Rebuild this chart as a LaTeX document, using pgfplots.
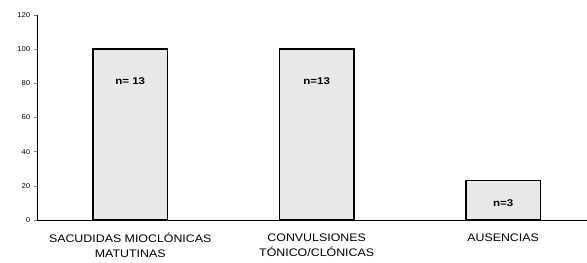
\documentclass[border=0pt]{standalone}
\usepackage{pgfplots}
\pgfplotsset{compat=1.18}
\usepackage{fontspec}
\setmainfont{Liberation Sans}
\begin{document}
\begin{tikzpicture}[x=1bp,y=1bp]
\path[use as bounding box] (0,0) rectangle (587bp,263bp);
\begin{axis}[
  scale only axis,
  width=550bp, height=205bp,
  at={(37bp,43bp)}, anchor=south west,
  xmin=-0.5, xmax=2.45,
  ymin=0, ymax=120,
  ytick={0,20,...,120},
  axis x line=bottom, axis y line=left,
  axis line style={-, line width=0.6pt},
  xtick={0,1,2},
  xticklabels={{SACUDIDAS MIOCLÓNICAS\\MATUTINAS},{CONVULSIONES\\TÓNICO/CLÓNICAS},{AUSENCIAS}},
  xticklabel style={align=center, font=\fontsize{11}{15}\selectfont, xscale=1.13, yshift=-7pt},
  x tick style={draw=none},
  extra x ticks={0.5,1.5},
  extra x tick labels={},
  extra x tick style={tick style={draw=black, line width=0.5pt}, major tick length=3bp},
  tick align=outside,
  major tick length=3bp,
  y tick style={line width=0.5pt},
  yticklabel style={font=\fontsize{7}{8}\selectfont, xscale=1.1},
  /pgf/number format/assume math mode=true,
  ybar, bar width=0.4,
  clip=false,
]
\addplot[draw=black, line width=1.6pt, fill=black!9] coordinates {(0,100) (1,100) (2,23.08)};
\node[font=\bfseries\fontsize{9.8}{10}\selectfont, xscale=1.18] at (axis cs:0,81) {n= 13};
\node[font=\bfseries\fontsize{9.8}{10}\selectfont, xscale=1.18] at (axis cs:1,81) {n=13};
\node[font=\bfseries\fontsize{9.8}{10}\selectfont, xscale=1.18] at (axis cs:2,10) {n=3};
\end{axis}
\end{tikzpicture}
\end{document}
